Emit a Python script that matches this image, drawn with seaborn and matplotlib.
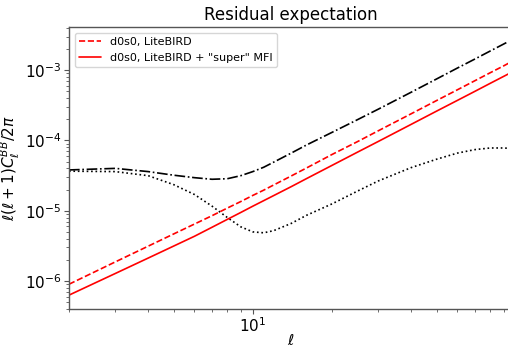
import numpy as np
import pandas as pd
import matplotlib
matplotlib.use("Agg")
import matplotlib.pyplot as plt
import seaborn as sns

# multipoles and residual spectra
ell = [2, 3, 4, 5, 6, 7, 8, 9, 10, 11, 12, 14, 16, 20, 25, 30, 40, 50, 60, 70, 80, 90, 100]

litebird = [9.0e-7, 1.87e-6, 3.13e-6, 4.67e-6, 6.46e-6, 8.5e-6, 1.09e-5, 1.35e-5, 1.65e-5,
            1.96e-5, 2.32e-5, 3.12e-5, 4.05e-5, 6.3e-5, 9.6e-5, 1.37e-4, 2.39e-4, 3.69e-4,
            5.25e-4, 7.08e-4, 9.18e-4, 1.15e-3, 1.42e-3]

litebird_mfi = [6.3e-7, 1.28e-6, 2.12e-6, 3.14e-6, 4.33e-6, 5.82e-6, 7.53e-6, 9.44e-6, 1.16e-5,
                1.39e-5, 1.64e-5, 2.2e-5, 2.86e-5, 4.41e-5, 6.8e-5, 9.66e-5, 1.69e-4, 2.61e-4,
                3.71e-4, 5.0e-4, 6.49e-4, 8.15e-4, 1.0e-3]

total = [3.8e-5, 4.0e-5, 3.6e-5, 3.2e-5, 2.95e-5, 2.8e-5, 2.85e-5, 3.15e-5, 3.6e-5,
         4.15e-5, 4.9e-5, 6.6e-5, 8.6e-5, 1.3e-4, 1.97e-4, 2.78e-4, 4.84e-4, 7.48e-4,
         1.07e-3, 1.44e-3, 1.87e-3, 2.35e-3, 2.89e-3]

dotted = [3.65e-5, 3.6e-5, 3.15e-5, 2.35e-5, 1.7e-5, 1.16e-5, 8.0e-6, 5.9e-6, 5.0e-6,
          4.85e-6, 5.2e-6, 6.6e-6, 8.6e-6, 1.25e-5, 1.9e-5, 2.65e-5, 4.1e-5, 5.4e-5,
          6.6e-5, 7.4e-5, 7.8e-5, 7.8e-5, 7.6e-5]

df = pd.DataFrame({"ell": ell, "litebird": litebird, "litebird_mfi": litebird_mfi,
                   "total": total, "dotted": dotted})

sns.set_style("ticks")
plt.rcParams["font.family"] = ["DejaVu Sans"]
plt.rcParams["mathtext.fontset"] = "dejavusans"
plt.rcParams["text.color"] = "black"
plt.rcParams["axes.labelcolor"] = "black"
plt.rcParams["xtick.color"] = "black"
plt.rcParams["ytick.color"] = "black"

fig = plt.figure(figsize=(5.08, 3.47), dpi=100)
ax = fig.add_axes([0.1358, 0.1095, 0.875, 0.8127])

sns.lineplot(data=df, x="ell", y="total", ax=ax, color="black", lw=1.2, linestyle="-.")
sns.lineplot(data=df, x="ell", y="dotted", ax=ax, color="black", lw=1.2, linestyle=":")
sns.lineplot(data=df, x="ell", y="litebird", ax=ax, color="red", lw=1.2, linestyle="--",
             label="d0s0, LiteBIRD")
sns.lineplot(data=df, x="ell", y="litebird_mfi", ax=ax, color="red", lw=1.2, linestyle="-",
             label='d0s0, LiteBIRD + "super" MFI')

ax.set_xscale("log")
ax.set_yscale("log")
ax.set_xlim(2, 98)
ax.set_ylim(4e-7, 4.1e-3)

for side in ["left", "bottom", "top", "right"]:
    ax.spines[side].set_visible(True)
    ax.spines[side].set_color("#555555")
    ax.spines[side].set_linewidth(1.0)

ax.tick_params(which="major", length=3.5, width=0.8, labelsize=11, pad=2,
               colors="#555555", labelcolor="black")
ax.tick_params(which="minor", length=2, width=0.6, colors="#555555")

ax.set_title("Residual expectation", fontsize=12, pad=5)
ax.set_xlabel(r"$\ell$", fontsize=11)
ax.set_ylabel(r"$\ell(\ell+1)C_\ell^{BB}/2\pi$", fontsize=11)
# pull the axis labels in so they sit inside the figure like the original
ax.xaxis.set_label_coords(0.5, -0.085)
ax.yaxis.set_label_coords(-0.105, 0.5)
ax.legend(loc="upper left", fontsize=8, frameon=True)

fig.savefig("out.png", dpi=100)
